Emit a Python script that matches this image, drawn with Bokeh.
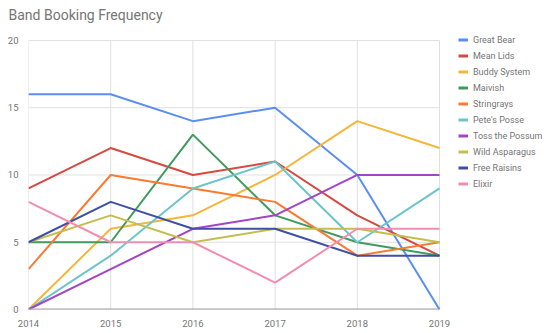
from bokeh.plotting import figure
from bokeh.models import Legend, LegendItem, FixedTicker, Range1d
from bokeh.embed import file_html
from bokeh.resources import INLINE

years = [2014, 2015, 2016, 2017, 2018, 2019]
bands = ["Great Bear", "Mean Lids", "Buddy System", "Maivish", "Stringrays",
         "Pete's Posse", "Toss the Possum", "Wild Asparagus", "Free Raisins", "Elixir"]
great_bear = [16, 16, 14, 15, 10, 0]
mean_lids = [9, 12, 10, 11, 7, 4]
buddy_system = [0, 6, 7, 10, 14, 12]
maivish = [5, 5, 13, 7, 5, 4]
stringrays = [3, 10, 9, 8, 4, 5]
petes_posse = [0, 4, 9, 11, 5, 9]
toss_the_possum = [0, 3, 6, 7, 10, 10]
wild_asparagus = [5, 7, 5, 6, 6, 5]
free_raisins = [5, 8, 6, 6, 4, 4]
elixir = [8, 5, 5, 2, 6, 6]
series = [great_bear, mean_lids, buddy_system, maivish, stringrays,
          petes_posse, toss_the_possum, wild_asparagus, free_raisins, elixir]
y_ticks = [0, 5, 10, 15, 20]
colors = ["#5B8EF5", "#D5493F", "#F4B63B", "#3E9B5B", "#FA7A32",
          "#6CC4CB", "#A344C8", "#C4BE4E", "#3F4FA3", "#F28DB2"]

FONT = "Roboto"
GREY = "#757575"

# frame spans to the right edge so the legend can sit inside it
W, H = 550, 333
LEFT, TOP, BOTTOM = 28, 26, 24
plot_px = 411.0       # pixels from first to last year
x_span = (years[-1] - years[0]) * (W - LEFT) / plot_px
unit_px = 13.5
y_span = (H - TOP - BOTTOM) / unit_px

p = figure(width=W, height=H, output_backend="svg", toolbar_location=None,
           x_range=Range1d(years[0], years[0] + x_span),
           y_range=Range1d(0, y_span),
           min_border_left=LEFT, min_border_right=0, min_border_top=TOP,
           min_border_bottom=BOTTOM)
p.title.text = "Band Booking Frequency"
p.title.text_font = FONT
p.title.text_font_size = "14px"
p.title.text_font_style = "normal"
p.title.text_color = GREY
p.title.offset = -20
p.title.standoff = 9

p.outline_line_color = None
p.background_fill_color = "white"
p.border_fill_color = "white"

p.xaxis.ticker = FixedTicker(ticks=years)
p.yaxis.ticker = FixedTicker(ticks=y_ticks)
for ax in (p.xaxis[0], p.yaxis[0]):
    ax.major_tick_line_color = None
    ax.minor_tick_line_color = None
    ax.major_label_text_font = FONT
    ax.major_label_text_font_size = "9.5px"
    ax.major_label_text_color = GREY
    ax.axis_line_color = None
p.yaxis.major_label_standoff = 4
p.xaxis.major_label_standoff = 4
p.xgrid.visible = False
p.ygrid.visible = False

# grid lines limited to the data area
p.segment(x0=[years[0]] * len(y_ticks), x1=[years[-1]] * len(y_ticks),
          y0=y_ticks, y1=y_ticks, line_color="#E0E0E0", line_width=1)
p.segment(x0=years, x1=years, y0=[y_ticks[0]] * len(years),
          y1=[y_ticks[-1]] * len(years), line_color="#E0E0E0", line_width=1)

for vals, c in zip(series, colors):
    p.line(years, vals, line_color=c, line_width=2)

# baseline
p.segment(x0=[years[0]], x1=[years[-1]], y0=[0], y1=[0],
          line_color="#9E9E9E", line_width=2)

items = []
for name, c in zip(bands, colors):
    dummy = p.line(x=[1900, 1901], y=[-100, -100], line_color=c, line_width=3)
    items.append(LegendItem(label=name, renderers=[dummy]))

legend = Legend(items=items, location=(430, 118),
                label_text_font=FONT, label_text_font_size="9px",
                label_text_color=GREY, glyph_width=10, glyph_height=15,
                label_height=15, spacing=1, padding=0, margin=0,
                border_line_color=None, background_fill_alpha=0,
                label_standoff=5)
p.add_layout(legend)

open("out.html", "w").write(file_html(p, INLINE))
